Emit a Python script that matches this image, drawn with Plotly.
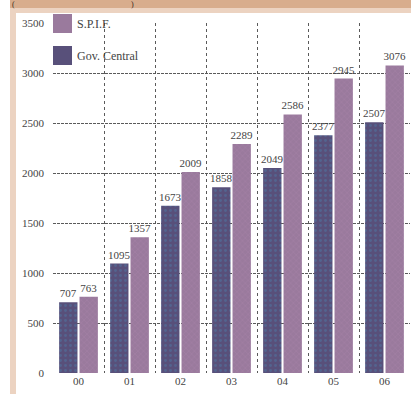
import plotly.graph_objects as go

# Yearly figures for the two funds
years = ["00", "01", "02", "03", "04", "05", "06"]
gov_central = [707, 1095, 1673, 1858, 2049, 2377, 2507]
spif = [763, 1357, 2009, 2289, 2586, 2945, 3076]
series_names = ["S.P.I.F.", "Gov. Central"]
y_ticks = [0, 500, 1000, 1500, 2000, 2500, 3000, 3500]

GOV_COLOR = "#58507a"
SPIF_COLOR = "#9a7a9d"
TEXT_COLOR = "#444444"
GRID_COLOR = "#5a5a5a"
FONT = "Liberation Serif"

W, H = 411, 394
ML, MR, MT, MB = 53, 1, 23, 21
PW, PH = W - ML - MR, H - MT - MB


def px(x):
    return (x - ML) / PW


def py(y):
    return (H - MB - y) / PH


fig = go.Figure()
fig.add_trace(go.Bar(
    x=years, y=gov_central, name=series_names[1],
    marker=dict(color=GOV_COLOR, line=dict(width=0),
                pattern=dict(shape=".", fgcolor="#4d78a3", size=5, solidity=0.25)),
    text=[str(v) for v in gov_central], textposition="outside", constraintext="none",
    textfont=dict(family=FONT, size=11, color=TEXT_COLOR), cliponaxis=False,
    showlegend=False,
))
fig.add_trace(go.Bar(
    x=years, y=spif, name=series_names[0],
    marker=dict(color=SPIF_COLOR, line=dict(width=0),
                pattern=dict(shape="x", fgcolor="#b48db3", size=4, solidity=0.2)),
    text=[str(v) for v in spif], textposition="outside", constraintext="none",
    textfont=dict(family=FONT, size=11, color=TEXT_COLOR), cliponaxis=False,
    showlegend=False,
))

shapes = []
# page frame: tan strip on top, light peach band and left edge
shapes.append(dict(type="rect", xref="paper", yref="paper", layer="below",
                   x0=px(10), x1=px(W + 5), y0=py(8), y1=py(-10),
                   fillcolor="#d8ad8d", line=dict(width=0)))
shapes.append(dict(type="rect", xref="paper", yref="paper", layer="below",
                   x0=px(10), x1=px(W + 5), y0=py(13), y1=py(8),
                   fillcolor="#ecd3c1", line=dict(width=0)))
shapes.append(dict(type="rect", xref="paper", yref="paper", layer="below",
                   x0=px(10), x1=px(16), y0=py(H + 5), y1=py(8),
                   fillcolor="#ecd3c1", line=dict(width=0)))

# legend swatches
annotations = []
legend_items = [(series_names[0], SPIF_COLOR, 14), (series_names[1], GOV_COLOR, 46)]
for name, color, top in legend_items:
    shapes.append(dict(type="rect", xref="paper", yref="paper",
                       x0=px(53), x1=px(72), y0=py(top + 19), y1=py(top),
                       fillcolor=color, line=dict(width=0)))
    annotations.append(dict(xref="paper", yref="paper", x=px(75), y=py(top + 10),
                            text=name, showarrow=False, xanchor="left", yanchor="middle",
                            font=dict(family=FONT, size=12, color=TEXT_COLOR)))

# heading brackets inside the top strip
for x, t in [(13, "("), (132, ")")]:
    annotations.append(dict(xref="paper", yref="paper", x=px(x), y=py(4),
                            text=t, showarrow=False, xanchor="center", yanchor="middle",
                            borderpad=0,
                            font=dict(family=FONT, size=8, color="#3a2a20")))

fig.update_layout(
    width=W, height=H,
    margin=dict(l=ML, r=MR, t=MT, b=MB, pad=0),
    paper_bgcolor="white", plot_bgcolor="white",
    barmode="group", bargap=0.2, bargroupgap=0.1,
    shapes=shapes, annotations=annotations,
    font=dict(family=FONT, size=11, color=TEXT_COLOR),
    xaxis=dict(
        type="category", tickson="boundaries", showgrid=True,
        gridcolor=GRID_COLOR, griddash="dot", gridwidth=1,
        ticks="", showline=False, zeroline=False,
        tickfont=dict(family=FONT, size=11, color=TEXT_COLOR),
    ),
    yaxis=dict(
        range=[0, 3500], tickvals=y_ticks, showgrid=True,
        gridcolor=GRID_COLOR, griddash="3px,1px", gridwidth=1,
        ticks="", showline=False, zeroline=False, ticklabelstandoff=8,
        tickfont=dict(family=FONT, size=11, color=TEXT_COLOR),
    ),
)

fig.write_html("out.html")
